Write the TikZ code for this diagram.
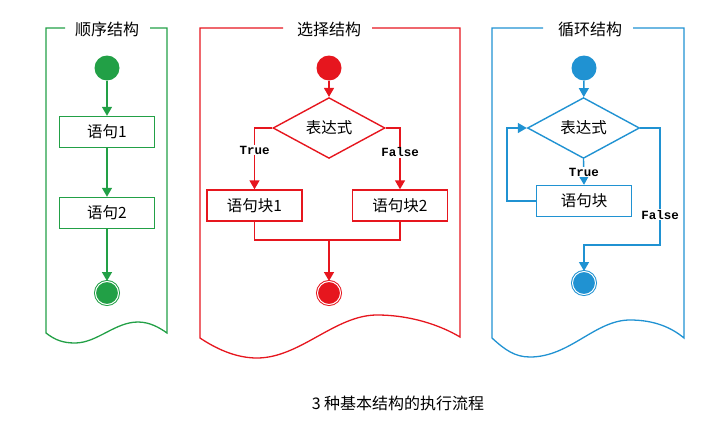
\documentclass[tikz,border=0pt]{standalone}
\usepackage{fontspec}
\setmainfont{Liberation Serif}
\newfontfamily\cjk{Noto Sans CJK SC}
\newfontfamily\codefont{Liberation Mono}
\usetikzlibrary{shapes.geometric,arrows.meta}
\definecolor{seqgreen}{RGB}{34,160,70}
\definecolor{selred}{RGB}{230,22,30}
\definecolor{loopblue}{RGB}{32,146,210}
\tikzset{
  stmt/.style={draw, line width=1.4pt, text=black, minimum width=95pt, minimum height=31pt, inner sep=0pt, font=\cjk\fontsize{15.5}{17}\selectfont},
  cond/.style={diamond, draw, line width=1.4pt, text=black, minimum width=112pt, minimum height=40pt, inner sep=0pt, font=\cjk\fontsize{15.5}{17}\selectfont},
  startdot/.style={circle, fill, minimum size=25pt, inner sep=0pt},
  enddot/.style={circle, fill, draw, double=white, double distance=1pt, line width=1pt, minimum size=23pt, inner sep=0pt},
  flow/.style={line width=1.4pt, -{Triangle[length=9pt,width=10pt]}},
  link/.style={line width=1.4pt},
  tlabel/.style={fill=white, text=black, inner sep=1pt, font=\codefont\bfseries\fontsize{12.5}{13}\selectfont},
  ptitle/.style={text=black, inner sep=0pt, font=\cjk\fontsize{16}{18}\selectfont},
  frame/.style={line width=1.3pt},
}
\begin{document}
\begin{tikzpicture}[x=1pt, y=-1pt]
		\useasboundingbox (0,0) rectangle (725,423);
		
		% sequence
		\begin{scope}[color=seqgreen]
		\node[ptitle] (seqtitle) at (107,29) {顺序结构};
		\draw[frame] (65,28) -- (46,28) -- (46,333)
		.. controls (55,340) and (63,343) .. (75,343)
		.. controls (97,343) and (115,322) .. (138,322)
		.. controls (150,322) and (160,328) .. (167,333)
		-- (167,28) -- (150,28);
		\node[startdot] (seqstart) at (107,68) {};
		\node[stmt] (stmtone) at (107,132) {语句1};
		\node[stmt] (stmttwo) at (107,213) {语句2};
		\node[enddot] (seqend) at (107,293) {};
		\draw[flow] (seqstart) -- (stmtone);
		\draw[flow] (stmtone) -- (stmttwo);
		\draw[flow] (stmttwo) -- (seqend);
		\end{scope}
		
		% selection
		\begin{scope}[color=selred]
		\node[ptitle] (seltitle) at (329,29) {选择结构};
		\draw[frame] (283,28) -- (200,28) -- (200,338)
		.. controls (215,348) and (235,358) .. (257,358)
		.. controls (300,358) and (335,315) .. (377,315)
		.. controls (410,315) and (440,325) .. (460,337)
		-- (460,28) -- (372,28);
		\node[startdot] (selstart) at (329,68) {};
		\node[cond] (selcond) at (329,128) {表达式};
		\node[stmt] (blockone) at (254.5,205.5) {语句块1};
		\node[stmt] (blocktwo) at (400,205.5) {语句块2};
		\coordinate (selmerge) at (329,240);
		\node[enddot] (selend) at (329,293) {};
		\draw[flow] (selstart) -- (selcond);
		\draw[flow] (selcond.west) -| node[tlabel, pos=0.68] (seltrue) {True} (blockone.north);
		\draw[flow] (selcond.east) -| node[tlabel, pos=0.7] (selfalse) {False} (blocktwo.north);
		\draw[link] (blockone.south) |- (selmerge) -| (blocktwo.south);
		\draw[flow] (selmerge) -- (selend);
		\end{scope}
		
		% loop
		\begin{scope}[color=loopblue]
		\node[ptitle] (looptitle) at (590,29) {循环结构};
		\draw[frame] (543,28) -- (492,28) -- (492,338)
		.. controls (505,350) and (515,357) .. (530,357)
		.. controls (570,357) and (595,320) .. (630,320)
		.. controls (655,320) and (672,328) .. (684,338)
		-- (684,28) -- (633,28);
		\node[startdot] (loopstart) at (584,68) {};
		\node[cond] (loopcond) at (583.5,128) {表达式};
		\node[stmt] (loopbody) at (584,201) {语句块};
		\coordinate (loopback) at (507,128);
		\coordinate (loopexit) at (660,245);
		\node[enddot] (loopend) at (584,283) {};
		\draw[flow] (loopstart) -- (loopcond);
		\draw[flow] (loopcond.south) -- node[tlabel] (looptrue) {True} (loopbody.north);
		\draw[flow] (loopbody.west) -| (loopback) -- (loopcond.west);
		\draw[flow] (loopcond.east) -| node[tlabel, pos=0.87] (loopfalse) {False} (loopexit) -| (loopend.north);
		\end{scope}
		
		\node[font=\cjk\fontsize{16}{18}\selectfont] (caption) at (398,403) {3 种基本结构的执行流程};
		
		\end{tikzpicture}
\end{document}
